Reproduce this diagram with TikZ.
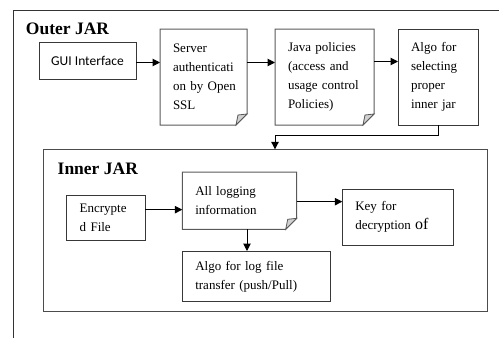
\documentclass[tikz,border=0pt]{standalone}
\usepackage{fontspec}
\setmainfont{Liberation Serif}
\newfontfamily\calib{Carlito}
\usetikzlibrary{arrows.meta,calc}
\begin{document}
\begin{tikzpicture}[x=1pt,y=-1pt,
  every node/.style={inner sep=0pt,outer sep=0pt},
  box/.style={draw=black!78,line width=1pt,anchor=north west,inner xsep=13pt,inner ysep=0pt,align=left,
     font=\fontsize{13}{19}\selectfont},
  docnode/.style={anchor=north west,inner xsep=13pt,inner ysep=0pt,align=left,
     font=\fontsize{13}{19}\selectfont},
  docline/.style={draw=black!65,line width=1pt},
  flap/.style={draw=black!65,line width=0.8pt,fill=black!18},
  arr/.style={draw=black,line width=1pt,-{Triangle[length=7.5pt,width=7.5pt]}},
  frame/.style={draw=black!80,line width=1pt},
  title/.style={anchor=base west,font=\fontsize{17.5}{20}\selectfont\bfseries}
]
\useasboundingbox (0,0) rectangle (499,338);
% outer frame
\draw[frame] (499,10) -- (13,10) -- (13,338);
\node[title] (outerlbl) at (26,34) {Outer JAR};

% outer row
\node[box,minimum width=97pt,minimum height=37pt,inner xsep=0pt,font=\calib\fontsize{13.5}{16}\selectfont] (gui) at (39,42) {GUI Interface};
\node[docnode,minimum width=87pt,minimum height=96pt,text width=61pt] (server) at (160,29)
  {Server\\authenticati\\on~by~Open\\SSL};
\node[docnode,minimum width=99pt,minimum height=96pt,text width=73pt] (java) at (275,29)
  {Java~policies\\(access~and\\usage~control\\Policies)};
\node[box,minimum width=80pt,minimum height=96pt,text width=54pt] (algo) at (398,29)
  {Algo~for\\selecting\\proper\\inner~jar};

% inner frame
\node[box,draw=black!70,minimum width=444pt,minimum height=162pt] (inner) at (43.7,149.3) {};
\node[title] (innerlbl) at (57.7,174) {Inner JAR};

\node[box,minimum width=78.3pt,minimum height=45.3pt,text width=52.3pt] (enc) at (66.7,195)
  {Encrypte\\d~File};
\node[docnode,minimum width=114.4pt,minimum height=57.3pt,text width=88.4pt] (log) at (182.3,172)
  {All~logging\\information};
\node[box,minimum width=111pt,minimum height=56pt,text width=85pt] (key) at (342.3,189.3)
  {Key~for\\decryption~{\fontsize{16}{19}\selectfont of}};
\node[box,minimum width=147.7pt,minimum height=50.7pt,text width=121.7pt] (algolog) at (182.3,251)
  {Algo~for~log~file\\transfer~(push/Pull)};

% document shapes
\foreach \n in {server,java,log}{
  \draw[docline] (\n.north west) -- (\n.north east) -- ([yshift=11pt]\n.south east)
     -- ([xshift=-11pt]\n.south east) -- (\n.south west) -- cycle;
  \draw[flap] ([xshift=-11pt]\n.south east) -- ([yshift=11pt]\n.south east)
     -- ([xshift=-9pt,yshift=10pt]\n.south east) -- cycle;
}

% connectors
\draw[arr] ([yshift=-2pt]gui.east) coordinate (g1) -- (g1 -| server.west);
\draw[arr] (g1 -| server.east) -- (g1 -| java.west);
\draw[arr] ([yshift=1pt]g1 -| java.east) coordinate (j1) -- (j1 -| algo.west);
\coordinate (bend) at (275,135);
\draw[arr] (algo.south) |- (bend) -- (bend |- inner.north);
\draw[arr] ([yshift=8pt]enc.east) coordinate (e1) -- (e1 -| log.west);
\draw[arr] ([yshift=-1pt]log.east) coordinate (l1) -- (l1 -| key.west);
\draw[arr] ([xshift=7.5pt]log.south) coordinate (l2) -- (l2 |- algolog.north);
\end{tikzpicture}
\end{document}
